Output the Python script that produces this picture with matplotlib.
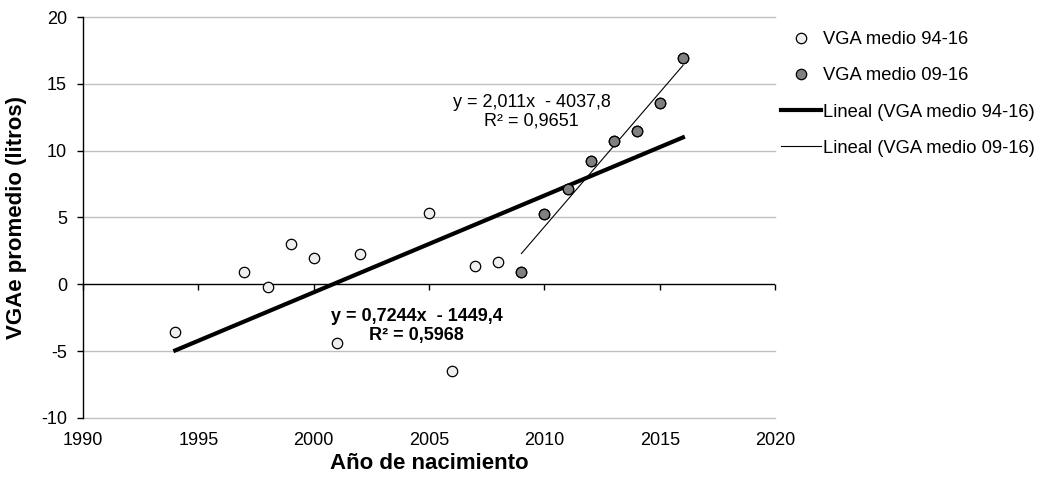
import numpy as np
import matplotlib
matplotlib.use('Agg')
import matplotlib.pyplot as plt

plt.rcParams['font.family'] = ['Liberation Sans', 'DejaVu Sans']
plt.rcParams['axes.unicode_minus'] = False

# VGA medio 94-16 (all years)
years_all = [1994, 1997, 1998, 1999, 2000, 2001, 2002, 2005, 2006, 2007, 2008,
             2009, 2010, 2011, 2012, 2013, 2014, 2015, 2016]
vga_all = [-3.6, 0.95, -0.2, 3.0, 2.0, -4.4, 2.3, 5.35, -6.5, 1.35, 1.7,
           0.95, 5.25, 7.15, 9.25, 10.75, 11.5, 13.6, 16.9]

# VGA medio 09-16
years_recent = [2009, 2010, 2011, 2012, 2013, 2014, 2015, 2016]
vga_recent = [0.95, 5.25, 7.15, 9.25, 10.75, 11.5, 13.6, 16.9]

# trend line coefficients as printed on the chart
fit_all = (0.7244, -1449.4)
fit_recent = (2.011, -4037.8)

fig = plt.figure(figsize=(10.41, 4.86), dpi=100)
ax = fig.add_axes([0.0797, 0.14, 0.665, 0.825])

ax.set_xlim(1990, 2020)
ax.set_ylim(-10, 20)
yt = np.arange(-10, 21, 5)
ax.set_yticks(yt)
ax.set_xticks(np.arange(1990, 2021, 5))
for v in yt:
    if v != 0:
        ax.axhline(v, color='#c0c0c0', linewidth=1.0, zorder=0, clip_on=False)

for s in ['top', 'right', 'bottom']:
    ax.spines[s].set_visible(False)
ax.spines['left'].set_linewidth(1.0)
ax.tick_params(axis='y', direction='out', length=4.5, width=1, labelsize=13, pad=7)
ax.tick_params(axis='x', length=0, labelsize=13, pad=10)

# x axis line crossing at y=0 with tick marks
ax.axhline(0, color='black', linewidth=1.0, zorder=2)
sec = ax.secondary_xaxis(1/3)
sec.set_xticks(np.arange(1990, 2021, 5))
sec.tick_params(axis='x', direction='out', length=4, width=1, labelbottom=False,
                labeltop=False, bottom=True, top=False)
sec.spines['bottom'].set_visible(False)
sec.spines['top'].set_visible(False)

# points
ax.plot(years_all, vga_all, 'o', markersize=7.5, markerfacecolor='#efefef',
        markeredgecolor='black', markeredgewidth=0.9, label='VGA medio 94-16', zorder=4)
ax.plot(years_recent, vga_recent, 'o', markersize=7.5, markerfacecolor='#808080',
        markeredgecolor='black', markeredgewidth=0.9, label='VGA medio 09-16', zorder=5)

# trend lines
xa = np.array([min(years_all), max(years_all)])
ax.plot(xa, fit_all[0] * xa + fit_all[1], color='black', linewidth=3,
        label='Lineal (VGA medio 94-16)', zorder=3)
xr = np.array([min(years_recent), max(years_recent)])
ax.plot(xr, fit_recent[0] * xr + fit_recent[1], color='black', linewidth=0.8,
        label='Lineal (VGA medio 09-16)', zorder=3)

ax.text(2009.45, 12.9, 'y = 2,011x  - 4037,8\nR² = 0,9651', ha='center', va='center',
        fontsize=13, linespacing=1.15)
ax.text(2004.45, -3.1, 'y = 0,7244x  - 1449,4\nR² = 0,5968', ha='center', va='center',
        fontsize=13, fontweight='bold', linespacing=1.15)

ax.set_xlabel('Año de nacimiento', fontsize=16, fontweight='bold', labelpad=3)
ax.set_ylabel('VGAe promedio (litros)', fontsize=16, fontweight='bold', labelpad=10)

ax.legend(loc='upper left', bbox_to_anchor=(1.008, 0.965), frameon=False, fontsize=13.2,
          handlelength=2.2, handletextpad=0.1, labelspacing=1.05, borderaxespad=0,
          borderpad=0)

fig.savefig('out.png', dpi=100)
